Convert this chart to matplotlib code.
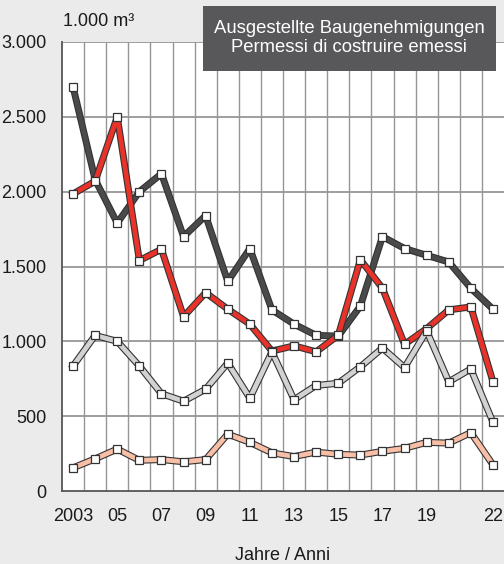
import matplotlib
matplotlib.use("Agg")
import matplotlib.pyplot as plt
import matplotlib.patheffects as pe
from matplotlib.ticker import FuncFormatter

plt.rcParams['font.family'] = ['Liberation Sans', 'DejaVu Sans']

years = list(range(2003, 2023))

# 1.000 m³ per year
dark = [2700, 2080, 1790, 2000, 2120, 1700, 1840, 1400, 1620, 1210,
        1115, 1040, 1035, 1235, 1700, 1620, 1575, 1530, 1355, 1215]
red = [1985, 2070, 2500, 1540, 1615, 1165, 1325, 1215, 1115, 935,
       970, 930, 1040, 1545, 1355, 980, 1085, 1210, 1230, 730]
light = [835, 1040, 1000, 835, 650, 600, 680, 855, 620, 930,
         610, 705, 720, 830, 955, 825, 1070, 730, 815, 460]
salmon = [155, 215, 280, 205, 210, 195, 210, 380, 325, 255,
          230, 260, 245, 240, 265, 285, 325, 320, 390, 175]

series = [(dark, '#4a4a4a'), (red, '#e8322a'), (light, '#d2d2d2'), (salmon, '#f8bea6')]

xticks = [2003, 2005, 2007, 2009, 2011, 2013, 2015, 2017, 2019, 2022]
xticklabels = ['2003', '05', '07', '09', '11', '13', '15', '17', '19', '22']
yticks = [0, 500, 1000, 1500, 2000, 2500, 3000]

fig = plt.figure(figsize=(5.04, 5.64), dpi=100, facecolor='#ebebeb')
ax = fig.add_axes([62/504, 73/564, 442/504, 449/564])
ax.set_facecolor('white')

# grid: vertical lines between years, horizontal every 500
for x in range(2003, 2022):
    ax.axvline(x + 0.5, color='#969696', lw=1.0, zorder=1)
for y in yticks[1:]:
    ax.axhline(y, color='#969696', lw=1.3, zorder=1)

z = 3
for vals, col in series:
    ax.plot(years, vals, color=col, lw=3.4, solid_joinstyle='bevel', zorder=z,
            path_effects=[pe.Stroke(linewidth=5.0, foreground='#333333'), pe.Normal()])
    ax.plot(years, vals, ls='none', marker='s', ms=5.5, mfc='white',
            mec='#333333', mew=0.9, zorder=z + 0.5)
    z += 1

ax.set_xlim(2002.5, 2022.5)
ax.set_ylim(0, 3000)
ax.set_xticks(xticks)
ax.set_xticklabels(xticklabels)
ax.set_yticks(yticks)
ax.yaxis.set_major_formatter(FuncFormatter(lambda v, p: f"{int(v):,}".replace(',', '.')))
ax.tick_params(length=0, labelsize=13, colors='#1a1a1a')
ax.tick_params(axis='y', pad=11)
ax.tick_params(axis='x', pad=12)

for s in ['top', 'right']:
    ax.spines[s].set_visible(False)
for s in ['left', 'bottom']:
    ax.spines[s].set_color('#555555')
    ax.spines[s].set_linewidth(1.3)

ax.set_xlabel('Jahre / Anni', fontsize=13, color='#1a1a1a', labelpad=16)

fig.text(63/504, 1 - 22/564, '1.000 m³', fontsize=13, color='#1a1a1a', va='center', ha='left')

fig.patches.append(plt.Rectangle((203/504, 1 - 71/564), 293/504, 65/564,
                                 transform=fig.transFigure, facecolor='#58585a',
                                 edgecolor='none', zorder=5))
fig.text(349/504, 1 - 38/564, 'Ausgestellte Baugenehmigungen\nPermessi di costruire emessi',
         fontsize=13.3, color='white', ha='center', va='center', linespacing=1.1, zorder=6)

fig.savefig('out.png', dpi=100, facecolor=fig.get_facecolor())
